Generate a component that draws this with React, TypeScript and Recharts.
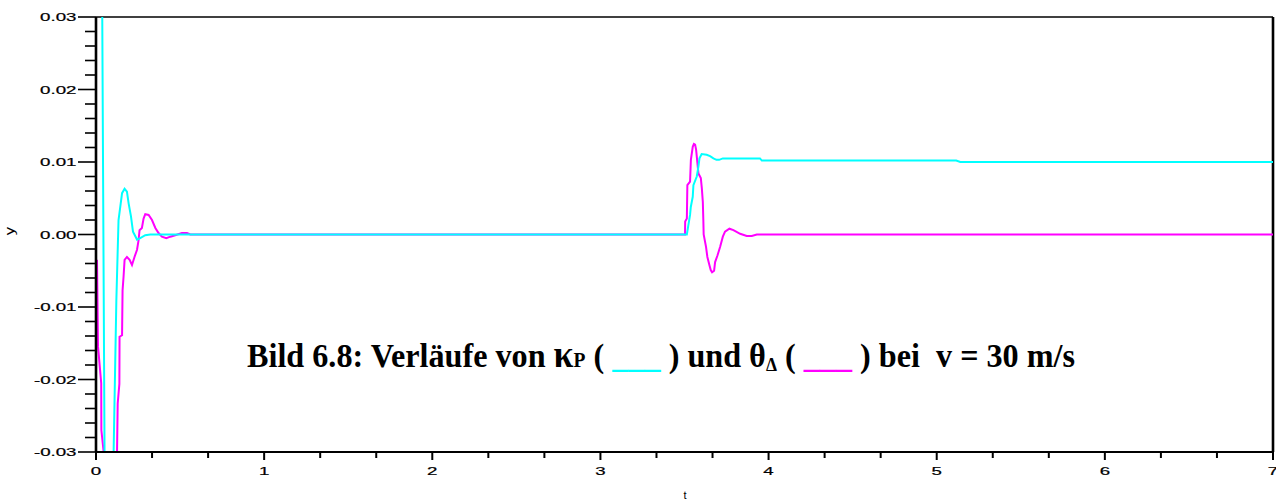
import React from 'react';
import { LineChart, Line, XAxis, YAxis, ReferenceLine, Customized } from 'recharts';

// κP response: time samples and values
const kappaT = [
  0, 0.037, 0.051, 0.06, 0.095, 0.104, 0.121, 0.134, 0.155, 0.17, 0.184, 0.194, 0.208, 0.22,
  0.244, 0.263, 0.293, 0.323, 3.514, 3.523, 3.533, 3.5375, 3.549, 3.553, 3.573, 3.583, 3.589,
  3.602, 3.632, 3.652, 3.672, 3.69, 3.706, 3.728, 3.949, 3.96, 5.116, 5.14, 7,
];
const kappaV = [
  0.06, 0.031, -0.031, -0.05, -0.05, -0.031, -0.0091, 0.002, 0.0057, 0.0063, 0.0059, 0.0043,
  0.0025, 0.0004, -0.0007, -0.0005, -0.0001, 0, 0, 0.0013, 0.0027, 0.0038, 0.0052, 0.0068, 0.008,
  0.0094, 0.0105, 0.0111, 0.011, 0.0108, 0.0105, 0.0103, 0.0103, 0.0105, 0.0105, 0.0102, 0.0102,
  0.01, 0.01,
];

// θΔ response: time samples and values
const thetaT = [
  0.006, 0.012, 0.016, 0.031, 0.032, 0.05, 0.06, 0.115, 0.125, 0.129, 0.139, 0.14, 0.155, 0.158,
  0.164, 0.17, 0.184, 0.2, 0.214, 0.229, 0.244, 0.253, 0.259, 0.273, 0.283, 0.293, 0.313, 0.333,
  0.353, 0.372, 0.392, 0.418, 0.442, 0.471, 0.511, 0.541, 0.561, 3.503, 3.504, 3.514, 3.517,
  3.533, 3.538, 3.549, 3.556, 3.563, 3.569, 3.583, 3.597, 3.603, 3.609, 3.612, 3.614, 3.628,
  3.636, 3.648, 3.656, 3.664, 3.676, 3.682, 3.696, 3.712, 3.728, 3.741, 3.767, 3.791, 3.831,
  3.87, 3.9, 3.93, 7,
];
const thetaV = [
  -0.0035, -0.0155, -0.0165, -0.0205, -0.027, -0.031, -0.06, -0.06, -0.0302, -0.0233, -0.0206,
  -0.0141, -0.0139, -0.0077, -0.0058, -0.0035, -0.0031, -0.0035, -0.0042, -0.0031, -0.0021,
  -0.0008, 0.0006, 0.0009, 0.0022, 0.0028, 0.0027, 0.002, 0.0009, 0.0002, -0.0003, -0.0005,
  -0.0003, -0.0001, 0.0002, 0.0002, 0, 0, 0.0018, 0.0022, 0.0068, 0.0073, 0.0103, 0.0121,
  0.0125, 0.0124, 0.0117, 0.0084, 0.0078, 0.0064, 0.0045, 0.002, 0, -0.0017, -0.0031, -0.0042,
  -0.0049, -0.0052, -0.005, -0.0038, -0.0029, -0.0017, -0.0003, 0.0004, 0.0008, 0.0006, 0.0001,
  -0.0002, -0.0002, 0, 0,
];

// Axis ticks and labels
const xMajorTicks = [0, 1, 2, 3, 4, 5, 6, 7];
const xTickLabels = ['0', '1', '2', '3', '4', '5', '6', '7'];
const yMajorTicks = [-0.03, -0.02, -0.01, 0, 0.01, 0.02, 0.03];
const yTickLabels = ['-0.03', '-0.02', '-0.01', '0.00', '0.01', '0.02', '0.03'];
const xMinorPerMajor = 3;
const yMinorPerMajor = 5;

const CYAN = '#00ffff';
const MAGENTA = '#ff00ff';
const TICK_FONT = "'Liberation Sans', Arial, Helvetica, sans-serif";

const kappaData = kappaT.map((t, i) => ({ t, v: kappaV[i] }));
const thetaData = thetaT.map((t, i) => ({ t, v: thetaV[i] }));

// major ticks plus evenly spaced minor ticks between them
const withMinor = (major: number[], n: number) => {
  const out: number[] = [];
  for (let i = 0; i < major.length - 1; i++) {
    for (let k = 0; k < n; k++) {
      out.push(+(major[i] + ((major[i + 1] - major[i]) * k) / n).toFixed(6));
    }
  }
  out.push(major[major.length - 1]);
  return out;
};
const xTicks = withMinor(xMajorTicks, xMinorPerMajor);
const yTicks = withMinor(yMajorTicks, yMinorPerMajor);

const majorIndex = (list: number[], v: number) =>
  list.findIndex((m) => Math.abs(m - v) < 1e-7);

const XTick = (props: any) => {
  const { x, y, payload } = props;
  const idx = majorIndex(xMajorTicks, payload.value);
  const major = idx >= 0;
  return (
    <g>
      <line x1={x} x2={x} y1={y} y2={y + (major ? 8 : 6)} stroke="#000" strokeWidth={2} />
      {major && (
        <text
          transform={`translate(${x},${y + 23}) scale(1.7,1)`}
          textAnchor="middle"
          fontFamily={TICK_FONT}
          fontSize={11}
          stroke="#000"
          strokeWidth={0.2}
          fill="#000"
        >
          {xTickLabels[idx]}
        </text>
      )}
    </g>
  );
};

const YTick = (props: any) => {
  const { x, y, payload } = props;
  const idx = majorIndex(yMajorTicks, payload.value);
  const major = idx >= 0;
  return (
    <g>
      <line x1={x - (major ? 18 : 11)} x2={x} y1={y} y2={y} stroke="#000" strokeWidth={1.6} />
      {major && (
        <text
          transform={`translate(${x - 19.5},${y + 4}) scale(1.7,1)`}
          textAnchor="end"
          fontFamily={TICK_FONT}
          fontSize={11}
          stroke="#000"
          strokeWidth={0.2}
          fill="#000"
        >
          {yTickLabels[idx]}
        </text>
      )}
    </g>
  );
};

const Annotations = () => (
  <g>
    <text
      transform="translate(14,231) rotate(-90) scale(1.4,1)"
      textAnchor="middle"
      fontFamily={TICK_FONT}
      fontSize={12}
      fill="#000"
    >
      y
    </text>
    <text x={685} y={499} textAnchor="middle" fontFamily={TICK_FONT} fontSize={11} fill="#000">
      t
    </text>
    <text
      x={247}
      y={367}
      fontFamily="'Liberation Serif', 'Times New Roman', serif"
      fontWeight="bold"
      fontSize={33}
      textLength={828}
      lengthAdjust="spacingAndGlyphs"
      fill="#000"
      style={{ whiteSpace: 'pre' }}
    >
      {'Bild 6.8: Verläufe von '}
      <tspan fontSize={37}>κ</tspan>
      <tspan fontSize={20}>P</tspan>
      {' ( '}
      <tspan fill={CYAN}>___</tspan>
      {' ) und θ'}
      <tspan fontSize={18} dy={4}>Δ</tspan>
      <tspan dy={-4}>{' ( '}</tspan>
      <tspan fill={MAGENTA}>___</tspan>
      {' ) bei  v = 30 m/s'}
    </text>
  </g>
);

export default function App() {
  return (
    <div style={{ position: 'absolute', left: 0, top: 0, background: '#fff' }}>
      <LineChart width={1276} height={502} margin={{ top: 17, right: 3, bottom: 0, left: 0 }}>
        <XAxis
          type="number"
          dataKey="t"
          domain={[0, 7]}
          ticks={xTicks}
          interval={0}
          allowDataOverflow
          height={50}
          tickSize={0}
          tickMargin={0}
          tickLine={false}
          tick={<XTick />}
          axisLine={{ stroke: '#000', strokeWidth: 2 }}
        />
        <YAxis
          type="number"
          dataKey="v"
          domain={[-0.03, 0.03]}
          ticks={yTicks}
          interval={0}
          allowDataOverflow
          width={96}
          tickSize={0}
          tickMargin={0}
          tickLine={false}
          tick={<YTick />}
          axisLine={{ stroke: '#000', strokeWidth: 2.6 }}
        />
        <ReferenceLine y={0.03} stroke="#000" strokeWidth={1.5} />
        <ReferenceLine x={7} stroke="#000" strokeWidth={2.6} />
        <Line
          data={thetaData}
          dataKey="v"
          type="linear"
          stroke={MAGENTA}
          strokeWidth={2}
          dot={false}
          activeDot={false}
          isAnimationActive={false}
        />
        <Line
          data={kappaData}
          dataKey="v"
          type="linear"
          stroke={CYAN}
          strokeWidth={2}
          dot={false}
          activeDot={false}
          isAnimationActive={false}
        />
        <Customized component={Annotations} />
      </LineChart>
    </div>
  );
}
